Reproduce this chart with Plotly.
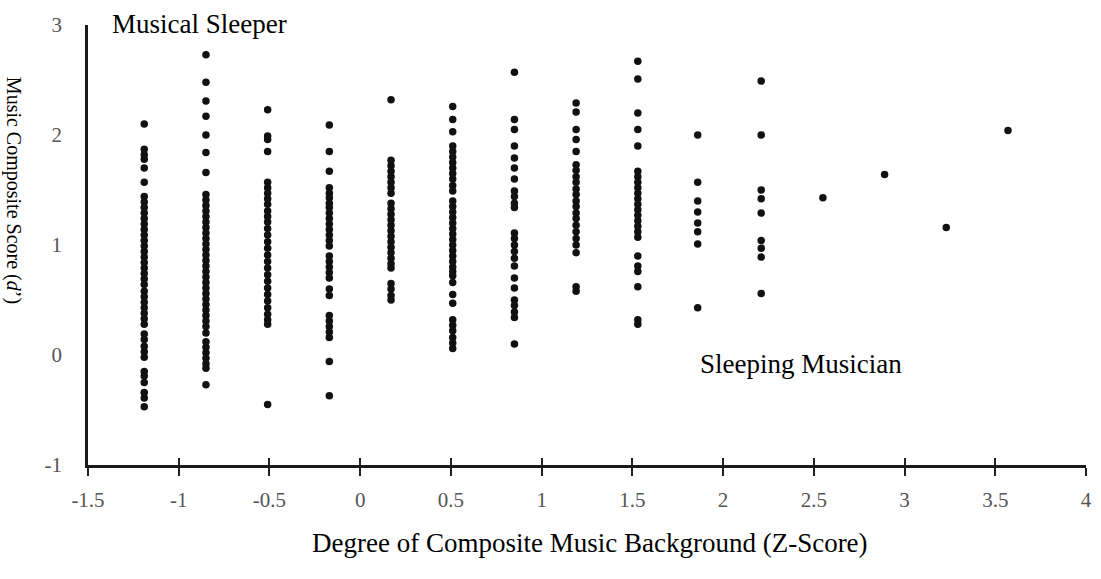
import plotly.graph_objects as go

# Column x-positions (composite music background z-score)
col_x = [-1.19, -0.85, -0.51, -0.17, 0.17, 0.51, 0.85, 1.19, 1.53, 1.86, 2.21, 2.55, 2.89, 3.23, 3.57]

# Music composite score (d') values for each column
col_y = [
    [2.10, 1.87, 1.82, 1.78, 1.70, 1.57, 1.44, 1.39, 1.34, 1.29, 1.24, 1.19, 1.14, 1.09, 1.04, 0.99,
     0.94, 0.89, 0.84, 0.79, 0.74, 0.69, 0.64, 0.58, 0.53, 0.48, 0.43, 0.38, 0.33, 0.28, 0.19, 0.14,
     0.08, 0.03, -0.02, -0.15, -0.19, -0.25, -0.34, -0.39, -0.47],
    [2.73, 2.48, 2.31, 2.17, 2.00, 1.84, 1.66, 1.46, 1.41, 1.36, 1.31, 1.26, 1.21, 1.16, 1.11, 1.06,
     1.01, 0.96, 0.91, 0.86, 0.81, 0.76, 0.71, 0.66, 0.61, 0.56, 0.51, 0.46, 0.41, 0.36, 0.31, 0.26,
     0.20, 0.12, 0.07, 0.02, -0.03, -0.08, -0.12, -0.27],
    [2.23, 1.99, 1.96, 1.85, 1.57, 1.52, 1.47, 1.42, 1.37, 1.31, 1.26, 1.21, 1.15, 1.09, 1.03, 0.97,
     0.91, 0.85, 0.79, 0.73, 0.67, 0.61, 0.55, 0.49, 0.43, 0.37, 0.32, 0.28, -0.45],
    [2.09, 1.85, 1.67, 1.52, 1.47, 1.43, 1.38, 1.34, 1.29, 1.24, 1.19, 1.14, 1.09, 1.04, 0.99, 0.90,
     0.85, 0.80, 0.75, 0.70, 0.60, 0.54, 0.36, 0.31, 0.26, 0.21, 0.16, -0.06, -0.37],
    [2.32, 1.77, 1.72, 1.67, 1.62, 1.57, 1.52, 1.47, 1.38, 1.33, 1.28, 1.23, 1.18, 1.13, 1.08, 1.03,
     0.98, 0.93, 0.88, 0.83, 0.79, 0.65, 0.60, 0.54, 0.50],
    [2.26, 2.14, 2.03, 1.90, 1.85, 1.80, 1.75, 1.70, 1.65, 1.60, 1.54, 1.49, 1.40, 1.35, 1.30, 1.25,
     1.20, 1.15, 1.10, 1.05, 1.00, 0.95, 0.90, 0.85, 0.80, 0.76, 0.72, 0.66, 0.55, 0.47, 0.32, 0.27,
     0.22, 0.16, 0.11, 0.06],
    [2.57, 2.14, 2.05, 1.90, 1.79, 1.70, 1.60, 1.49, 1.44, 1.38, 1.34, 1.11, 1.06, 1.00, 0.94, 0.88,
     0.81, 0.70, 0.61, 0.50, 0.45, 0.39, 0.34, 0.10],
    [2.29, 2.21, 2.05, 1.96, 1.85, 1.73, 1.68, 1.62, 1.57, 1.51, 1.46, 1.40, 1.35, 1.29, 1.24, 1.18,
     1.12, 1.06, 1.00, 0.93, 0.62, 0.58],
    [2.67, 2.51, 2.20, 2.05, 1.90, 1.67, 1.62, 1.57, 1.52, 1.47, 1.42, 1.37, 1.32, 1.27, 1.22, 1.17,
     1.12, 1.07, 0.90, 0.81, 0.76, 0.62, 0.32, 0.28],
    [2.00, 1.57, 1.40, 1.30, 1.20, 1.12, 1.01, 0.43],
    [2.49, 2.00, 1.50, 1.42, 1.29, 1.04, 0.97, 0.89, 0.56],
    [1.43],
    [1.64],
    [1.16],
    [2.04],
]

x_tick_vals = [-1.5, -1, -0.5, 0, 0.5, 1, 1.5, 2, 2.5, 3, 3.5, 4]
x_tick_text = ["-1.5", "-1", "-0.5", "0", "0.5", "1", "1.5", "2", "2.5", "3", "3.5", "4"]
y_tick_vals = [-1, 0, 1, 2, 3]
y_tick_text = ["-1", "0", "1", "2", "3"]

x_title = "Degree of Composite Music Background (Z-Score)"
y_title = "Music Composite Score (<i>d</i>’)"
label_top = "Musical Sleeper"
label_bottom = "Sleeping Musician"

xs, ys = [], []
for cx, vals in zip(col_x, col_y):
    for v in vals:
        xs.append(cx)
        ys.append(v)

SERIF = "Liberation Serif, Times New Roman, serif"

fig = go.Figure()
fig.add_trace(go.Scatter(
    x=xs, y=ys, mode="markers",
    marker=dict(size=7.5, color="#111111", line=dict(width=0)),
    showlegend=False, hoverinfo="skip", cliponaxis=False,
))
# empty trace on the overlay axis so its inside ticks get drawn
fig.add_trace(go.Scatter(x=[], y=[], xaxis="x2", showlegend=False))

fig.update_layout(
    width=1101, height=579,
    margin=dict(l=88, r=15, t=25, b=114, autoexpand=False),
    paper_bgcolor="white", plot_bgcolor="white",
    font=dict(family=SERIF, color="black"),
    xaxis=dict(
        range=[-1.5, 4], tickvals=x_tick_vals, ticktext=x_tick_text,
        showgrid=False, zeroline=False, showline=True, linecolor="#1a1a1a", linewidth=2.5,
        ticks="outside", ticklen=8, tickwidth=1.5, tickcolor="#222",
        tickfont=dict(family=SERIF, size=21, color="#555555"),
        ticklabelstandoff=6, automargin=False,
    ),
    xaxis2=dict(
        range=[-1.5, 4], overlaying="x", side="bottom", anchor="y",
        tickvals=x_tick_vals, showticklabels=False,
        showgrid=False, zeroline=False, showline=False,
        ticks="inside", ticklen=7, tickwidth=1.5, tickcolor="#222",
    ),
    yaxis=dict(
        range=[-1, 3], tickvals=y_tick_vals, ticktext=y_tick_text,
        showgrid=False, zeroline=False, showline=True, linecolor="#1a1a1a", linewidth=2.5,
        ticks="", tickfont=dict(family=SERIF, size=21, color="#555555"),
        ticklabelstandoff=19, automargin=False,
    ),
    annotations=[
        dict(x=0.022, y=1.002, xref="paper", yref="paper", text=label_top, showarrow=False,
             xanchor="left", yanchor="middle", font=dict(family=SERIF, size=27, color="black")),
        dict(x=1.86, y=-0.08, xref="x", yref="y", text=label_bottom, showarrow=False,
             xanchor="left", yanchor="middle", font=dict(family=SERIF, size=27, color="black")),
        dict(x=0.503, y=-0.177, xref="paper", yref="paper", text=x_title, showarrow=False,
             xanchor="center", yanchor="middle", font=dict(family=SERIF, size=27, color="black")),
        dict(x=-0.074, y=0.625, xref="paper", yref="paper", text=y_title, showarrow=False,
             textangle=90, xanchor="center", yanchor="middle",
             font=dict(family=SERIF, size=20, color="black")),
    ],
)

fig.write_html("out.html", config={"displayModeBar": False},
               post_script="document.body.style.margin='0px';document.body.style.overflow='hidden';")
